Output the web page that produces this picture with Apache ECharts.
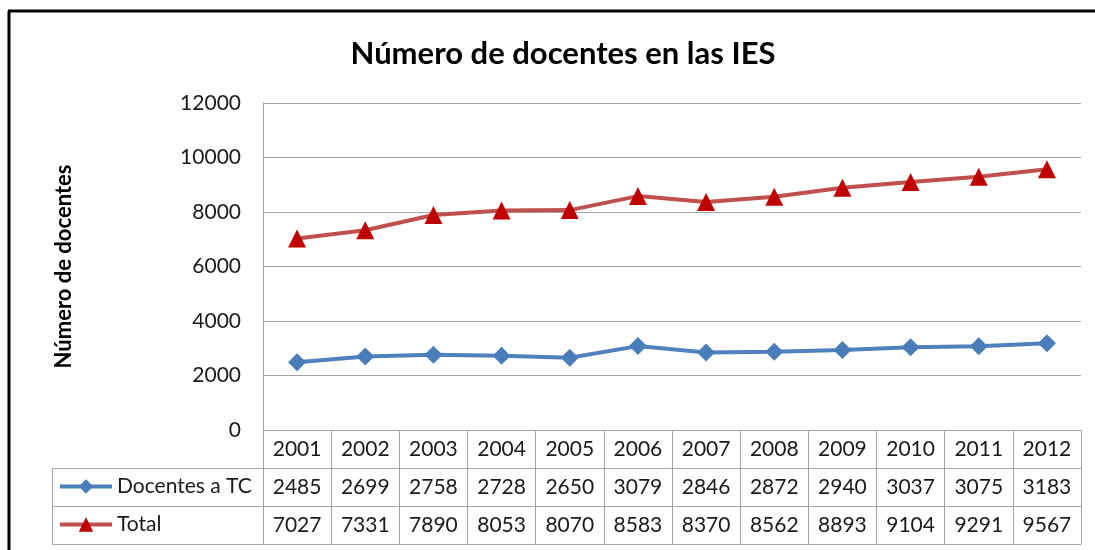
<!DOCTYPE html>
<html>
<head>
<meta charset="utf-8">
<script src="https://cdn.jsdelivr.net/npm/echarts@6/dist/echarts.min.js"></script>
<style>
html,body{margin:0;padding:0;background:#fff}
#chart{width:1095px;height:550px}
</style>
</head>
<body>
<div id="chart"></div>
<script>
var years = ['2001','2002','2003','2004','2005','2006','2007','2008','2009','2010','2011','2012'];
var docentesTC = [2485,2699,2758,2728,2650,3079,2846,2872,2940,3037,3075,3183];
var total = [7027,7331,7890,8053,8070,8583,8370,8562,8893,9104,9291,9567];
var yTicks = [0,2000,4000,6000,8000,10000,12000];

var font = 'Lato, "Open Sans", sans-serif';
var gridCol = '#a6a6a6';
var rowH = 38;

// x axes stacked under the plot make the data table rows
var tableAxis = function (data, row, labels) {
    return {
        type: 'category',
        data: data,
        position: 'bottom',
        offset: row * rowH,
        boundaryGap: true,
        axisLine: {show: true, lineStyle: {color: gridCol, width: 1}},
        axisTick: {show: labels, interval: 0, length: rowH, lineStyle: {color: gridCol}},
        axisLabel: {show: labels, interval: 0, margin: 9, color: '#1a1a1a', fontFamily: font, fontSize: 21},
        gridIndex: 0
    };
};

var legendCell = function (name, top) {
    return {
        data: [name], left: 58, top: top, padding: 0,
        itemWidth: 52, itemHeight: 18,
        lineStyle: {width: 4},
        textStyle: {fontFamily: font, fontSize: 21, color: '#1a1a1a'}
    };
};

var chart = echarts.init(document.getElementById('chart'));
var option = {
    animation: false,
    backgroundColor: '#ffffff',
    title: {
        text: 'Número de docentes en las IES',
        left: 558, top: 33, textAlign: 'center',
        textStyle: {fontFamily: font, fontSize: 31, fontWeight: 'bold', color: '#000'}
    },
    grid: {left: 263, right: 14, top: 103, bottom: 120},
    legend: [
        legendCell('Docentes a TC', 476),
        legendCell('Total', 514)
    ],
    xAxis: [
        tableAxis(years, 0, true),
        tableAxis(docentesTC.map(String), 1, true),
        tableAxis(total.map(String), 2, true),
        tableAxis(years, 3, false)
    ],
    yAxis: {
        type: 'value',
        min: yTicks[0], max: yTicks[yTicks.length - 1], interval: yTicks[1] - yTicks[0],
        name: 'Número de docentes',
        nameLocation: 'middle', nameRotate: 90, nameGap: 188,
        nameTextStyle: {fontFamily: font, fontSize: 22, fontWeight: 'bold', color: '#000'},
        axisLine: {show: true, lineStyle: {color: gridCol}},
        axisTick: {show: false},
        axisLabel: {margin: 22, color: '#1a1a1a', fontFamily: font, fontSize: 21,
            formatter: function (v) { return String(v); }},
        splitLine: {lineStyle: {color: gridCol, width: 1}}
    },
    series: [
        {
            name: 'Docentes a TC', type: 'line', xAxisIndex: 0, data: docentesTC,
            symbol: 'diamond', symbolSize: 18,
            lineStyle: {color: '#4f81bd', width: 4},
            itemStyle: {color: '#4a7ebb'}
        },
        {
            name: 'Total', type: 'line', xAxisIndex: 0, data: total,
            symbol: 'triangle', symbolSize: 18,
            lineStyle: {color: '#c0504d', width: 4},
            itemStyle: {color: '#c00000'}
        }
    ],
    graphic: [
        // table rows left of the plot (legend cells)
        {type: 'line', shape: {x1: 52, y1: 468.5, x2: 263, y2: 468.5}, style: {stroke: gridCol, lineWidth: 1}},
        {type: 'line', shape: {x1: 52, y1: 506.5, x2: 263, y2: 506.5}, style: {stroke: gridCol, lineWidth: 1}},
        {type: 'line', shape: {x1: 52, y1: 544.5, x2: 263, y2: 544.5}, style: {stroke: gridCol, lineWidth: 1}},
        {type: 'line', shape: {x1: 52.5, y1: 468, x2: 52.5, y2: 545}, style: {stroke: gridCol, lineWidth: 1}},
        // page frame
        {type: 'line', shape: {x1: 8, y1: 11, x2: 1095, y2: 11}, style: {stroke: '#000', lineWidth: 3}},
        {type: 'line', shape: {x1: 9, y1: 11, x2: 9, y2: 550}, style: {stroke: '#000', lineWidth: 3}}
    ]
};
chart.setOption(option);
</script>
</body>
</html>
